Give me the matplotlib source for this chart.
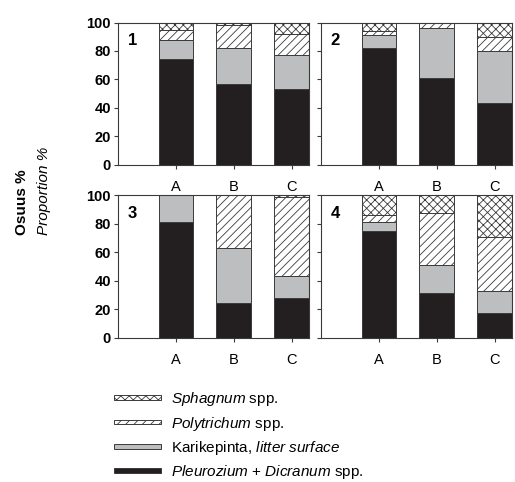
import numpy as np
import matplotlib
matplotlib.use("Agg")
from matplotlib import pyplot as plt
from matplotlib.patches import Patch

plt.rcParams["font.family"] = ["Liberation Sans", "DejaVu Sans"]
plt.rcParams["hatch.linewidth"] = 0.6
plt.rcParams["mathtext.fontset"] = "custom"
plt.rcParams["mathtext.it"] = "Liberation Sans:italic"
plt.rcParams["mathtext.rm"] = "Liberation Sans"

# Kategoriat ja osuudet (%) paneeleittain
categories = ["A", "B", "C"]
panels = ["1", "2", "3", "4"]
pleurozium = [[74, 57, 53], [82, 61, 43], [81, 24, 28], [75, 31, 17]]
karikepinta = [[14, 25, 24], [9, 35, 37], [19, 39, 15], [6, 20, 16]]
polytrichum = [[7, 16, 15], [3, 4, 10], [0, 37, 56], [5, 37, 38]]
sphagnum = [[5, 2, 8], [6, 0, 10], [0, 0, 1], [14, 12, 29]]

labels = ["$\\it{Pleurozium}$ + $\\it{Dicranum}$ spp.",
          "Karikepinta, $\\it{litter\\ surface}$",
          "$\\it{Polytrichum}$ spp.",
          "$\\it{Sphagnum}$ spp."]

BLACK = "#231f20"
GREY = "#bcbec0"
EDGE = "#3a3a3a"

styles = [
    dict(facecolor=BLACK, hatch=None),
    dict(facecolor=GREY, hatch=None),
    dict(facecolor="white", hatch="////"),
    dict(facecolor="white", hatch="xxxx"),
]

fig = plt.figure(figsize=(5.15, 4.82), dpi=100)
W, H = 515, 482
# akselien paikat pikseleinä: (vasen, ylä, leveys, korkeus)
boxes = [(118, 22.5, 191, 142), (321, 22.5, 191, 142),
         (118, 195.5, 191, 142), (321, 195.5, 191, 142)]

x = np.arange(1, len(categories) + 1)
for i, (l, t, w, h) in enumerate(boxes):
    ax = fig.add_axes([l / W, 1 - (t + h) / H, w / W, h / H])
    data = [pleurozium[i], karikepinta[i], polytrichum[i], sphagnum[i]]
    bottom = np.zeros(len(categories))
    for vals, st in zip(data, styles):
        vals = np.array(vals, dtype=float)
        ax.bar(x, vals, 0.6, bottom=bottom, facecolor=st["facecolor"],
               hatch=st["hatch"], edgecolor=EDGE, linewidth=0.7)
        bottom += vals
    ax.set_xlim(0, 3.3)
    ax.set_ylim(0, 100)
    ax.set_xticks(x)
    ax.set_xticklabels(categories, fontsize=10.5)
    ax.set_yticks(np.arange(0, 101, 20))
    ax.tick_params(axis="x", direction="out", length=3, pad=8, color=EDGE)
    ax.tick_params(axis="y", direction="out", length=3, pad=2, color=EDGE)
    if i % 2 == 0:
        for lab in ax.get_yticklabels():
            lab.set_fontweight("bold")
            lab.set_fontsize(10.5)
    else:
        ax.set_yticklabels([])
    for sp in ax.spines.values():
        sp.set_color(EDGE)
        sp.set_linewidth(0.8)
    ax.text(0.05, 0.87, panels[i], transform=ax.transAxes, fontsize=12,
            fontweight="bold", ha="left", va="center")

fig.text(22 / W, 1 - 235 / H, "Osuus %", rotation=90, fontsize=11,
         fontweight="bold", ha="center", va="bottom")
fig.text(44 / W, 1 - 235 / H, "Proportion %", rotation=90, fontsize=11,
         style="italic", ha="center", va="bottom")

handles = []
for st in styles:
    handles.append(Patch(facecolor=st["facecolor"], hatch=st["hatch"],
                         edgecolor=EDGE, linewidth=0.7))
fig.legend(handles[::-1], labels[::-1], loc="upper left",
           bbox_to_anchor=(108 / W, 1 - 384 / H), frameon=False,
           fontsize=11, handlelength=3.1, handleheight=0.1,
           labelspacing=0.42, handletextpad=0.6, borderaxespad=0)

fig.savefig("out.png", dpi=100)
